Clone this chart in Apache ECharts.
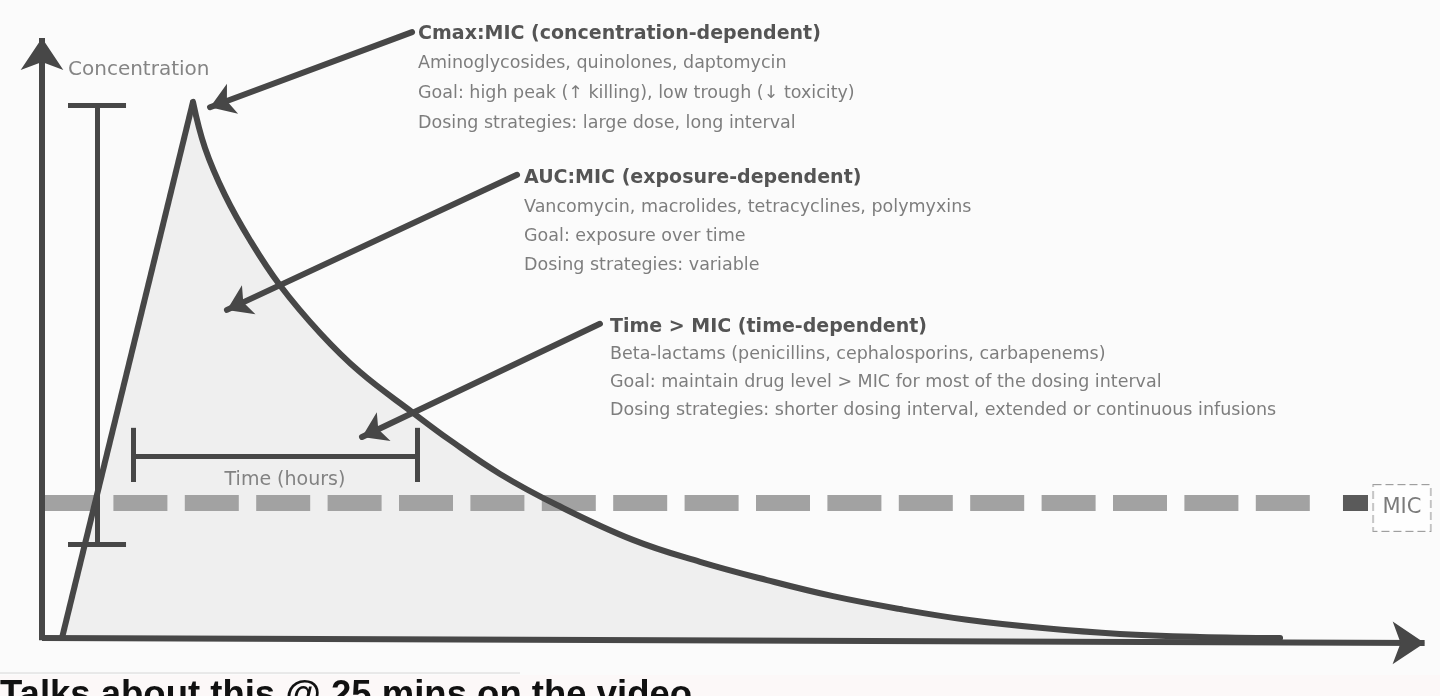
<!DOCTYPE html>
<html>
<head>
<meta charset="utf-8">
<title>PK/PD targets</title>
<script src="https://cdn.jsdelivr.net/npm/echarts@6/dist/echarts.min.js"></script>
<style>
  html, body { margin: 0; padding: 0; background: #fbfbfb; }
  #chart { width: 1440px; height: 696px; }
</style>
</head>
<body>
<div id="chart"></div>
<script>
// curve: [time, concentration] (peak = 100)
const risePoints = [[1.43, 0], [10.8, 100]];
const decayPoints = [
  [10.8, 100], [11.66, 91.4], [13.09, 82.6], [14.88, 74.2], [17.02, 65.8],
  [19.89, 56.9], [22.75, 49.6], [26.54, 42.0], [29.18, 36.9], [32.76, 30.6],
  [36.84, 24.8], [42.27, 18.3], [47.07, 14.2], [51.86, 10.8], [56.58, 7.8],
  [61.37, 5.4], [66.17, 3.4], [71.39, 1.9], [77.11, 0.75], [82.83, 0.2], [88.56, 0]
];

// MIC threshold
const micLevel = 25.2;
const micDashEnd = 91.6;
const micTail = [93.06, 94.85];
const micLabelAt = [97.28, 24.25];

// peak-to-trough bar and dosing-interval bracket
const peakBar = { x: 3.93, top: 99.4, bottom: 17.5, cap: [1.86, 6.01] };
const interval = { from: 6.51, to: 26.82, y: 33.95, tickTop: 39.2, tickBottom: 29.1 };
const timeLabelAt = [17.38, 29.5];
const concLabelAt = [1.86, 105.9];

// axes ends
const yAxisLine = [[0, -0.4], [0, 111.9]];
const xAxisLine = [[0, 0], [98.9, -0.93]];

// callouts
const cmaxLines = [
  'Cmax:MIC (concentration-dependent)',
  'Aminoglycosides, quinolones, daptomycin',
  'Goal: high peak (\u2191 killing), low trough (\u2193 toxicity)',
  'Dosing strategies: large dose, long interval'
];
const aucLines = [
  'AUC:MIC (exposure-dependent)',
  'Vancomycin, macrolides, tetracyclines, polymyxins',
  'Goal: exposure over time',
  'Dosing strategies: variable'
];
const timeLines = [
  'Time > MIC (time-dependent)',
  'Beta-lactams (penicillins, cephalosporins, carbapenems)',
  'Goal: maintain drug level > MIC for most of the dosing interval',
  'Dosing strategies: shorter dosing interval, extended or continuous infusions'
];
const blockAnchors = [[26.9, 112.7, 5.6], [34.48, 85.8, 5.45], [40.63, 58.0, 5.2]];
const arrowLines = [
  [[26.47, 113.0], [12.02, 99.0]],
  [[33.98, 86.4], [13.23, 61.2]],
  [[39.91, 58.6], [22.89, 37.5]]
];

const ink = '#474747';
const fill = '#efefef';

const textData = [];
[cmaxLines, aucLines, timeLines].forEach((lines, b) => {
  const [x, y, step] = blockAnchors[b];
  lines.forEach((t, i) => {
    const item = { name: t, value: [x, y - i * step] };
    if (i === 0) item.label = { fontWeight: 'bold', fontSize: 19, color: '#2a2a2a' };
    textData.push(item);
  });
});
textData.push({ name: 'Concentration', value: concLabelAt, label: { fontSize: 20, color: '#666' } });
textData.push({ name: 'Time (hours)', value: timeLabelAt, label: { position: 'inside', fontSize: 19, color: '#666' } });

const seg = (a, b) => [{ coord: a }, { coord: b }];

const chart = echarts.init(document.getElementById('chart'));
chart.setOption({
  animation: false,
  backgroundColor: '#fbfbfb',
  grid: { left: 42, right: 0, top: 0, bottom: 47.28 },
  xAxis: { type: 'value', min: 0, max: 100, show: false },
  yAxis: { type: 'value', min: -2, max: 119, show: false },
  graphic: [
    { type: 'rect', shape: { x: 0, y: 675, width: 1440, height: 21 }, style: { fill: '#fcf8f8' }, z: -1 },
    { type: 'line', shape: { x1: 0, y1: 673, x2: 520, y2: 673 }, style: { stroke: '#d6d6d6', lineWidth: 1 } },
    {
      type: 'text', left: 0, top: 677,
      style: { text: 'Talks about this @ 25 mins on the video', fontSize: 36.5, fontWeight: 'bold', fill: '#111', fontFamily: 'Liberation Sans' }
    }
  ],
  series: [
    // shaded area under the curve, below the MIC dashes
    {
      name: 'rise area', type: 'line', data: risePoints, symbol: 'none', z: 1,
      lineStyle: { width: 0 }, areaStyle: { color: fill, opacity: 1, origin: 0 }
    },
    {
      name: 'decay area', type: 'line', data: decayPoints, symbol: 'none', smooth: 0.4, z: 1,
      lineStyle: { width: 0 }, areaStyle: { color: fill, opacity: 1, origin: 0 }
    },
    {
      name: 'MIC', type: 'line', data: [[0, micLevel], [micDashEnd, micLevel]], symbol: 'none', z: 2,
      lineStyle: { color: '#a2a2a2', width: 16, type: [54, 17.4], dashOffset: 0, cap: 'butt' }
    },
    {
      name: 'MIC end', type: 'line', data: [[micTail[0], micLevel], [micTail[1], micLevel]], symbol: 'none', z: 2,
      lineStyle: { color: '#5a5a5a', width: 16, cap: 'butt' }
    },
    {
      name: 'rise', type: 'line', data: risePoints, symbol: 'none', z: 3,
      lineStyle: { color: ink, width: 6 }
    },
    {
      name: 'decay', type: 'line', data: decayPoints, symbol: 'none', smooth: 0.4, z: 3,
      lineStyle: { color: ink, width: 6, cap: 'round' }
    },
    {
      name: 'marks', type: 'line', data: [], z: 4,
      markLine: {
        silent: true, symbol: 'none', label: { show: false },
        lineStyle: { color: ink, width: 5, type: 'solid' },
        data: [
          seg([peakBar.x, peakBar.top], [peakBar.x, peakBar.bottom]),
          seg([peakBar.cap[0], peakBar.top], [peakBar.cap[1], peakBar.top]),
          seg([peakBar.cap[0], peakBar.bottom], [peakBar.cap[1], peakBar.bottom]),
          seg([interval.from, interval.y], [interval.to, interval.y]),
          seg([interval.from, interval.tickTop], [interval.from, interval.tickBottom]),
          seg([interval.to, interval.tickTop], [interval.to, interval.tickBottom])
        ]
      }
    },
    {
      name: 'axes', type: 'line', data: [], z: 5,
      markLine: {
        silent: true, symbol: ['none', 'arrow'], symbolSize: 32, label: { show: false },
        lineStyle: { color: ink, width: 6, type: 'solid' },
        data: [seg(yAxisLine[0], yAxisLine[1]), seg(xAxisLine[0], xAxisLine[1])]
      }
    },
    {
      name: 'callouts', type: 'line', data: [], z: 6,
      markLine: {
        silent: true, symbol: ['none', 'arrow'], symbolSize: 24, label: { show: false },
        lineStyle: { color: ink, width: 6, type: 'solid', cap: 'round' },
        data: arrowLines.map(a => seg(a[0], a[1]))
      }
    },
    {
      name: 'text', type: 'scatter', data: textData, symbolSize: 0, z: 7,
      label: {
        show: true, position: 'right', distance: 0, formatter: '{b}',
        fontFamily: 'DejaVu Sans', fontSize: 17.5, color: '#5e5e5e'
      }
    },
    {
      name: 'MIC label', type: 'scatter', data: [{ name: 'MIC', value: micLabelAt }], symbolSize: 0, z: 7,
      label: {
        show: true, position: 'inside', formatter: '{b}', fontFamily: 'DejaVu Sans', fontSize: 21, color: '#5a5a5a',
        backgroundColor: '#fff', borderColor: '#888', borderWidth: 1, borderType: 'dashed',
        padding: [13, 9, 12, 9]
      }
    }
  ]
});
</script>
</body>
</html>
